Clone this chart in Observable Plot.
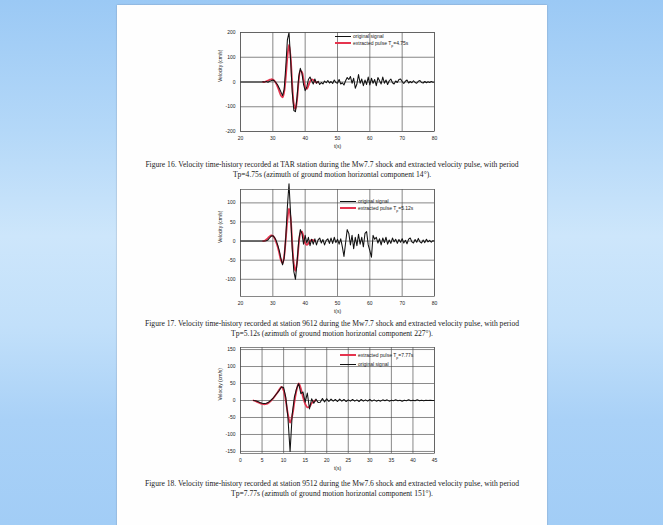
<!DOCTYPE html>
<html>
<head>
<meta charset="utf-8">
<script src="https://cdn.jsdelivr.net/npm/d3@7"></script>
<script src="https://cdn.jsdelivr.net/npm/@observablehq/plot@0.6"></script>
<style>
  html, body { margin: 0; padding: 0; }
  body {
    width: 663px; height: 525px; overflow: hidden; position: relative;
    background: linear-gradient(#9bc9f5 0%, #b4d8f8 25%, #cde6fb 45%, #c2e0fa 62%, #a9d1f7 80%, #a2cdf6 100%);
  }
  #page {
    position: absolute; left: 117px; top: 5px; width: 430px; height: 530px;
    background: #fefefe; box-shadow: 0 0 1.5px rgba(90,100,120,0.55);
  }
  .fig { position: absolute; }
  .caption {
    position: absolute; left: 117px; width: 430px; text-align: center;
    font-family: "Liberation Serif", "DejaVu Serif", serif; font-size: 7.6px; line-height: 10px;
    color: #222; white-space: nowrap;
  }
  .legend {
    position: absolute; font-family: "Liberation Sans", Arial, sans-serif; font-size: 5px; color: #222;
  }
  .legend .row { position: absolute; left: 0; white-space: nowrap; height: 6px; line-height: 6px; }
  .legend .swatch { position: absolute; left: 0; top: 3px; width: 16px; }
  .legend .lbl { position: absolute; left: 18px; top: 0; }
</style>
</head>
<body>
<div id="page"></div>
<div id="root"></div>
<script>
// Sampling step of the digitised records (s)
const dt = 0.5;

// Figure 16: recorded velocity (cm/s), 20 s to 80 s
const sig16T0 = 20;
const sig16 = [
  0, 0, 0, 0, 0, 0, 0, 0, 0, 0, 0, 0, 0, 0, 1, 0,
  2, -1, 3, 5, 8, 4, -3, -12, -25, -40, -55, -30, 60, 170, 200, 90,
  -40, -115, -120, -60, 20, 55, 35, -10, -35, -20, 10, 20, 5, -8,
  12, -5, 3, -10, -2, -8, 4, -3, 6, -4, 2, -6, 8, -2, -5, 10,
  -8, -3, -12, 5, 18, 10, 22, -5, 15, -25, -8, 30, -5, 12, -15, 8,
  -10, 20, -12, 15, -5, 10, -15, 18, 5, -8, 20, -5, 8, -10, 5, 12,
  -3, -8, 4, -2, 10, 12, 2, -6, 3, 8, -4, 2, -3, 5, -2, -5,
  3, 6, -2, -4, 2, -3, 1, -2, 2, -1, 0
];
// Figure 16: extracted pulse, Tp = 4.75 s
const pulse16T0 = 27;
const pulse16 = [
  0, 1, 3, 6, 9, 11, 10, 5, -5, -20, -38, -55, -62, -40, 20, 100,
  150, 100, -10, -90, -110, -70, 5, 45, 40, 10, -20, -28, -15, 2,
  10, 8, 2, -2, 0
];

// Figure 17: recorded velocity (cm/s), 20 s to 80 s
const sig17T0 = 20;
const sig17 = [
  0, 0, 0, 0, 0, 0, 0, 0, 0, 0, 0, 0, 0, 0, 0, 0,
  1, 3, 8, 13, 14, 10, 2, -10, -25, -45, -62, -45, 10, 90, 150, 70,
  -20, -80, -100, -55, 0, 30, 20, -8, 15, -5, 10, -12, 5, -8,
  6, -10, 3, 8, -5, 4, -10, 2, 6, -6,
  8, -6, 10, -4, 5, -8, 6, -15, -40, -5, 30, 20, -10, 15, -20, 10,
  -12, 18, -8, 10, -15, 20, 25, -10, -25, -42, 15, 5, 10,
  -5, 6, -10, 8, -4, 10, -8, 3, -6, 8, -2, 5, -6, 4, -3, 6,
  -5, 2, -7, 5, 8, -2, -5, 4, -3, 7, -2, -5, 3, -4, 5, -2,
  2, -3, 1, 0
];
// Figure 17: extracted pulse, Tp = 5.12 s
const pulse17T0 = 27;
const pulse17 = [
  0, 1, 4, 8, 12, 15, 14, 8, -2, -15, -32, -50, -58, -40, 5, 55,
  85, 60, -5, -60, -78, -55, -10, 20, 25, 10, -5, -10, -6, 0,
  3, 2, 0
];

// Figure 18: recorded velocity (cm/s), 3 s to 45 s
const sig18T0 = 3;
const sig18 = [
  0, -1, -3, -6, -8, -9, -8, -5, 0, 6, 14, 22, 30, 40, 38, 10,
  -50, -150, -40, 10, 35, 50, 20, 25, -5, 22, -25, 5, -8, 4, -6,
  -5, 6, -4, 5, -3, 4, -2, 3, -3, 4, -2, 3, -3, 2, -2, 3, -2, 2, -3,
  3, -2, 2, -2, 3, -2, 2, -2, 1, -2, 2, -1, 2, -2, 1, -1, 2, -1,
  1, -2, 1, -1, 2, -1, 1, -1, 2, -1, 1, -1, 1, 0, 1, 0, 0
];
// Figure 18: extracted pulse, Tp = 7.77 s
const pulse18T0 = 3;
const pulse18 = [
  0, -2, -5, -8, -10, -11, -10, -7, -2, 5, 13, 22, 32, 40, 30, 0,
  -40, -65, -45, -5, 30, 50, 35, 10, -10, -20, -18, -8, -2, 0
];

// Axis ticks
const ticksT20 = [20, 30, 40, 50, 60, 70, 80];
const ticksT0 = [0, 5, 10, 15, 20, 25, 30, 35, 40, 45];
const ticksV16 = [-200, -100, 0, 100, 200];
const ticksV17 = [-100, -50, 0, 50, 100];
const ticksV18 = [-150, -100, -50, 0, 50, 100, 150];

// Legend and caption text
const labelSignal = "original signal";
const labels = ["4.75", "5.12", "7.77"];
const captions = [
  ["Figure 16. Velocity time-history recorded at TAR station during the Mw7.7 shock and extracted velocity pulse, with period",
   "Tp=4.75s (azimuth of ground motion horizontal component 14°)."],
  ["Figure 17. Velocity time-history recorded at station 9612 during the Mw7.7 shock and extracted velocity pulse, with period",
   "Tp=5.12s (azimuth of ground motion horizontal component 227°)."],
  ["Figure 18. Velocity time-history recorded at station 9512 during the Mw7.6 shock and extracted velocity pulse, with period",
   "Tp=7.77s (azimuth of ground motion horizontal component 151°)."]
];

const red = "#e5344e";
const series = (vals, t0) => vals.map((v, i) => ({t: t0 + i * dt, v}));

function chart(o) {
  const svg = Plot.plot({
    width: 240,
    height: o.height,
    marginLeft: 40,
    marginRight: 6,
    marginTop: 8,
    marginBottom: 21,
    style: {background: "transparent", fontFamily: "Liberation Sans, Arial, sans-serif", fontSize: "5px", color: "#222"},
    x: {domain: o.xDomain, ticks: o.xTicks},
    y: {domain: o.yDomain, ticks: o.yTicks},
    marks: [
      Plot.gridX(o.xTicks, {stroke: "#bbb", strokeOpacity: 0.3, strokeWidth: 0.6}),
      Plot.gridY(o.yTicks, {stroke: "#bbb", strokeOpacity: 0.3, strokeWidth: 0.6}),
      Plot.axisX(o.xTicks, {tickSize: 0, tickPadding: 4.5, label: null, tickFormat: d => String(d)}),
      Plot.axisY(o.yTicks, {tickSize: 0, tickPadding: 5, label: null, tickFormat: d => String(d)}),
      Plot.tickX(o.xTicks, {x: d => d, y1: o.yDomain[0], y2: o.yDomain[0] + (o.yDomain[1] - o.yDomain[0]) * 0.025, stroke: "#444", strokeWidth: 0.6}),
      Plot.tickY(o.yTicks, {y: d => d, x1: o.xDomain[0], x2: o.xDomain[0] + (o.xDomain[1] - o.xDomain[0]) * 0.015, stroke: "#444", strokeWidth: 0.6}),
      Plot.line(series(o.pulse, o.pulseT0), {x: "t", y: "v", stroke: red, strokeWidth: 1.8, curve: "catmull-rom"}),
      Plot.line(series(o.sig, o.sigT0), {x: "t", y: "v", stroke: "#111", strokeWidth: 1.05}),
      Plot.frame({stroke: "#555", strokeWidth: 0.7}),
      Plot.text(["t(s)"], {frameAnchor: "bottom", dy: 16, fontSize: 5}),
      Plot.text(["Velocity (cm/s)"], {frameAnchor: "left", dx: -20, rotate: -90, fontSize: 5})
    ]
  });
  const wrap = document.createElement("div");
  wrap.className = "fig";
  wrap.style.left = "200px";
  wrap.style.top = o.top + "px";
  wrap.appendChild(svg);
  document.getElementById("root").appendChild(wrap);
}

function legend(x, y, items) {
  const lg = document.createElement("div");
  lg.className = "legend";
  lg.style.left = x + "px";
  lg.style.top = y + "px";
  items.forEach((it, i) => {
    const row = document.createElement("div");
    row.className = "row";
    row.style.top = (i * it.gap) + "px";
    row.innerHTML = `<div class="swatch" style="border-top:${it.w}px solid ${it.c};margin-top:${-it.w / 2}px"></div><div class="lbl">${it.html}</div>`;
    lg.appendChild(row);
  });
  document.getElementById("root").appendChild(lg);
}

function caption(lines, y) {
  lines.forEach((ln, i) => {
    const c = document.createElement("div");
    c.className = "caption";
    c.style.top = (y + i * 10) + "px";
    c.textContent = ln;
    document.getElementById("root").appendChild(c);
  });
}

const pulseLabel = p => `extracted pulse T<sub style="font-size:3.5px">p</sub>=${p}s`;

chart({sig: sig16, sigT0: sig16T0, pulse: pulse16, pulseT0: pulse16T0, xDomain: [20, 80], xTicks: ticksT20, yDomain: [-200, 200], yTicks: ticksV16, top: 24, height: 128});
legend(335, 33, [
  {c: "#111", w: 0.8, html: labelSignal, gap: 7},
  {c: red, w: 2, html: pulseLabel(labels[0]), gap: 7}
]);
caption(captions[0], 160);

chart({sig: sig17, sigT0: sig17T0, pulse: pulse17, pulseT0: pulse17T0, xDomain: [20, 80], xTicks: ticksT20, yDomain: [-145, 135], yTicks: ticksV17, top: 181, height: 136});
legend(340, 198, [
  {c: "#111", w: 0.8, html: labelSignal, gap: 7},
  {c: red, w: 2, html: pulseLabel(labels[1]), gap: 7}
]);
caption(captions[1], 319);

chart({sig: sig18, sigT0: sig18T0, pulse: pulse18, pulseT0: pulse18T0, xDomain: [0, 45], xTicks: ticksT0, yDomain: [-156, 156], yTicks: ticksV18, top: 339, height: 135});
legend(340, 352, [
  {c: red, w: 2.4, html: pulseLabel(labels[2]), gap: 9},
  {c: "#111", w: 0.8, html: labelSignal, gap: 9}
]);
caption(captions[2], 479);
</script>
</body>
</html>
